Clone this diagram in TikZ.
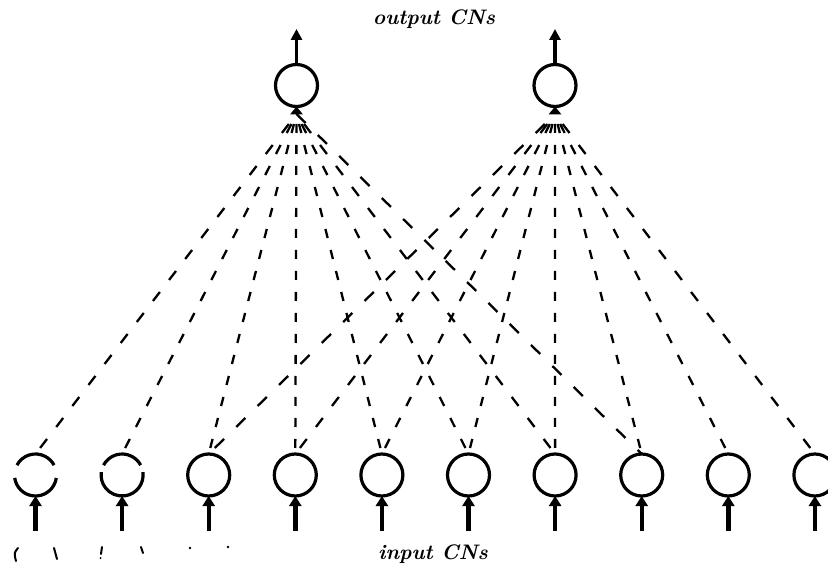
\documentclass[tikz,border=0pt]{standalone}
\usepackage{fontspec}
\usetikzlibrary{arrows.meta}

\begin{document}
\begin{tikzpicture}[x=1pt,y=-1pt,
  cn/.style={circle, draw, line width=3.2pt, minimum size=42pt, inner sep=0pt, outer sep=0pt},
  cnopen/.style={circle, minimum size=42pt, inner sep=0pt, outer sep=0pt},
  brokenarc/.style={line width=3.2pt},
  conn/.style={line width=2.3pt},
  outarrow/.style={line width=3.4pt, -{Triangle[length=11pt,width=11pt]}},
  inarrow/.style={line width=4.4pt, -{Triangle[length=10pt,width=12pt]}},
  caption/.style={font=\fontsize{21}{24}\selectfont\bfseries\itshape\addfontfeature{LetterSpace=8}},
  stray/.style={line width=2pt, line cap=round}]
\useasboundingbox (0,0) rectangle (828,577);

% labels
\node[caption] (outlabel) at (434,19) {output CNs};
\node[caption] (inlabel) at (433,554) {input CNs};

% output units
\node[cn] (o1) at (296.5,85.5) {};
\node[cn] (o2) at (555,85.5) {};
\coordinate (h1) at (296.5,29);
\coordinate (h2) at (555,29);
\draw[outarrow] (o1.north) -- (h1);
\draw[outarrow] (o2.north) -- (h2);
\fill (o1.south) -- ++(-6.5,8) -- ++(13,0) -- cycle;
\fill (o2.south) -- ++(-6.5,8) -- ++(13,0) -- cycle;
\coordinate (o1b) at (296.5,114);
\coordinate (o2b) at (555,114);

% input units
\foreach \i in {1,...,10} {
  \pgfmathsetmacro\xx{35.5+86.6*(\i-1)}
  \ifnum\i<3
    \node[cnopen] (i\i) at (\xx,475) {};
  \else
    \node[cn] (i\i) at (\xx,475) {};
  \fi
  \coordinate (t\i) at (\xx,531);
  \draw[inarrow] (t\i) -- (i\i.south);
}

% the two broken input circles (y runs downward, so angles turn clockwise)
\draw[brokenarc] (i1.center) ++(208:21) arc[start angle=208, end angle=332, radius=21];
\draw[brokenarc] (i1.center) ++(8:21) arc[start angle=8, end angle=172, radius=21];
\draw[brokenarc] (i2.center) ++(208:21) arc[start angle=208, end angle=332, radius=21];
\draw[brokenarc] (i2.center) ++(-8:21) arc[start angle=-8, end angle=188, radius=21];

% connections from the first output unit (inputs 1-8)
\foreach \j in {1,...,8} {
  \pgfmathsetmacro\dx{35.5+86.6*(\j-1)-296.5}
  \pgfmathsetmacro\f{veclen(\dx,340)/340}
  \pgfmathsetmacro\don{9*\f}
  \pgfmathsetmacro\doff{12*\f}
  \ifnum\j=8
    \pgfmathsetmacro\dph{0}
  \else
    \pgfmathsetmacro\dph{11*\f}
  \fi
  \draw[conn, dash pattern=on \don pt off \doff pt, dash phase=\dph pt] (o1b) -- (i\j.north);
}

% connections from the second output unit (inputs 3-10)
\foreach \j in {3,...,10} {
  \pgfmathsetmacro\dx{35.5+86.6*(\j-1)-555}
  \pgfmathsetmacro\f{veclen(\dx,340)/340}
  \pgfmathsetmacro\don{9*\f}
  \pgfmathsetmacro\doff{12*\f}
  \pgfmathsetmacro\dph{11*\f}
  \draw[conn, dash pattern=on \don pt off \doff pt, dash phase=\dph pt] (o2b) -- (i\j.north);
}

% small stray marks under the first inputs
\draw[stray] (18,548) .. controls (14,553) .. (16,561);
\draw[stray] (54,548) -- (57,559);
\draw[stray] (102,547) -- (101,554);
\fill (100.5,558) circle[radius=1];
\draw[stray] (141,547) -- (143,553);
\fill (190,548) circle[radius=1.3];
\fill (228,547) circle[radius=1.3];
\end{tikzpicture}
\end{document}
